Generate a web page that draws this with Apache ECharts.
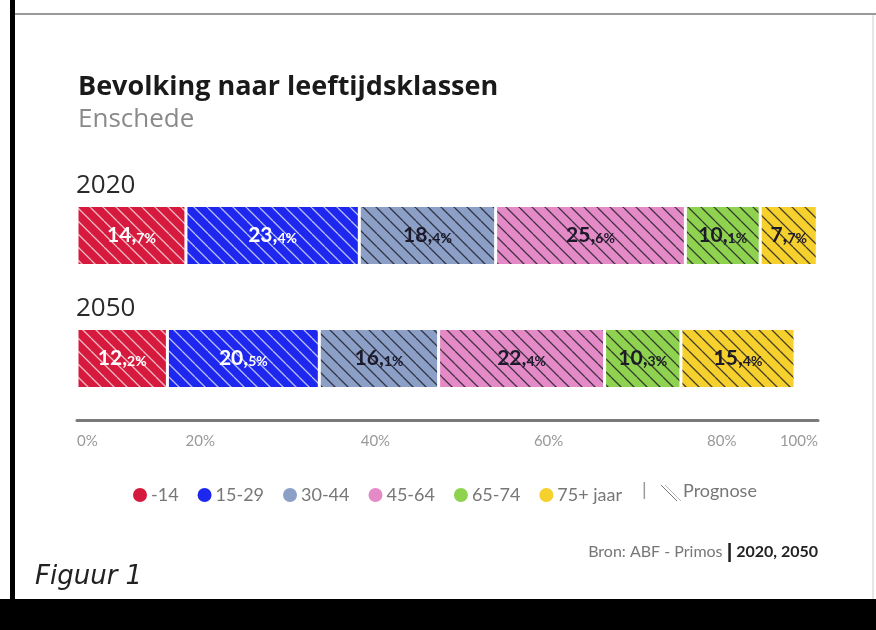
<!DOCTYPE html>
<html>
<head>
<meta charset="utf-8">
<script src="https://cdn.jsdelivr.net/npm/echarts@6/dist/echarts.min.js"></script>
<style>
  html, body { margin: 0; padding: 0; background: #fff; }
  #chart { width: 876px; height: 630px; }
</style>
</head>
<body>
<div id="chart"></div>
<script>
const years = ['2020', '2050']
const groups = ['-14', '15-29', '30-44', '45-64', '65-74', '75+ jaar']
const values2020 = [14.7, 23.4, 18.4, 25.6, 10.1, 7.7]
const values2050 = [12.2, 20.5, 16.1, 22.4, 10.3, 15.4]
const colors = ['#d61a3e', '#1d27ee', '#8c9fc6', '#e48ac6', '#8fd24f', '#f6d02c']
const lightText = [true, true, false, false, false, false]

// hatch pattern: diagonal "\" lines on top of the fill colour
function hatch(fill, line) {
  const s = 13
  const c = document.createElement('canvas')
  c.width = s
  c.height = s
  const ctx = c.getContext('2d')
  ctx.fillStyle = fill
  ctx.fillRect(0, 0, s, s)
  ctx.strokeStyle = line
  ctx.lineWidth = 1.3
  ctx.beginPath()
  for (const k of [-s, 0, s]) {
    ctx.moveTo(k, 0)
    ctx.lineTo(k + s, s)
  }
  ctx.stroke()
  return { image: c, repeat: 'repeat' }
}

function fmt(p) {
  const parts = p.value.toFixed(1).split('.')
  return '{a|' + parts[0] + ',}{b|' + parts[1] + '%}'
}

const series = groups.map((g, i) => {
  const txt = lightText[i] ? '#ffffff' : '#1c1a2a'
  return {
    name: g,
    type: 'bar',
    stack: 'total',
    barWidth: 60,
    data: [values2020[i], values2050[i]],
    itemStyle: {
      color: hatch(colors[i], lightText[i] ? 'rgba(255,255,255,0.7)' : 'rgba(25,25,35,0.8)'),
      borderColor: '#ffffff',
      borderWidth: 1.5
    },
    label: {
      show: true,
      position: 'inside',
      formatter: fmt,
      rich: {
        a: { fontSize: 21, fontWeight: 'bold', color: txt, fontFamily: 'Lato' },
        b: { fontSize: 14, fontWeight: 'bold', color: txt, fontFamily: 'Lato', padding: [5, 0, 0, 0] }
      }
    }
  }
})

// shift the middle tick labels a little, as in the original layout
const tickShift = { 20: -25, 40: 2, 60: 27, 80: 52 }

const option = {
  backgroundColor: '#ffffff',
  animation: false,
  textStyle: { fontFamily: 'Lato' },
  title: {
    text: 'Bevolking naar leeftijdsklassen',
    subtext: 'Enschede',
    left: 73,
    top: 69,
    itemGap: 6,
    textStyle: { fontSize: 27, fontWeight: 'bold', color: '#1a1a1a', fontFamily: 'Open Sans' },
    subtextStyle: { fontSize: 26, color: '#8a8a8a', fontFamily: 'Open Sans' }
  },
  grid: { left: 77, right: 58, top: 174, bottom: 210 },
  xAxis: {
    type: 'value',
    min: 0,
    max: 100,
    interval: 20,
    splitLine: { show: false },
    axisTick: { show: false },
    axisLine: { show: true, lineStyle: { color: '#7a7a7a', width: 3 } },
    axisLabel: {
      color: '#999',
      fontSize: 15,
      margin: 14,
      alignMinLabel: 'left',
      alignMaxLabel: 'right',
      formatter: function(v) {
        const d = tickShift[v] || 0
        if (d > 0) return '{r' + v + '|' + v + '%}'
        if (d < 0) return '{l' + v + '|' + v + '%}'
        return v + '%'
      },
      rich: {
        l20: { fontSize: 15, color: '#999', padding: [0, 50, 0, 0] },
        r40: { fontSize: 15, color: '#999', padding: [0, 0, 0, 4] },
        r60: { fontSize: 15, color: '#999', padding: [0, 0, 0, 54] },
        r80: { fontSize: 15, color: '#999', padding: [0, 0, 0, 104] }
      }
    }
  },
  yAxis: {
    type: 'category',
    data: years,
    inverse: true,
    axisLine: { show: false },
    axisTick: { show: false },
    axisLabel: { show: false }
  },
  legend: {
    left: 126,
    top: 481,
    icon: 'circle',
    itemWidth: 16,
    itemHeight: 16,
    itemGap: 17,
    textStyle: { color: '#777', fontSize: 18, padding: [0, 0, 0, -2] },
    data: groups.map((g, i) => ({ name: g, itemStyle: { color: colors[i] } }))
  },
  graphic: [
    { type: 'rect', left: 10, top: 0, shape: { width: 5, height: 600 }, style: { fill: '#000' } },
    { type: 'rect', left: 15, top: 13, shape: { width: 861, height: 2 }, style: { fill: '#9a9a9a' } },
    { type: 'rect', left: 872, top: 15, shape: { width: 2, height: 584 }, style: { fill: '#e6e6e6' } },
    { type: 'rect', left: 0, top: 599, shape: { width: 876, height: 31 }, style: { fill: '#000' } },
    { type: 'text', left: 642, top: 481, style: { text: '|', fontSize: 18, fill: '#999' } },
    { type: 'line', shape: { x1: 661, y1: 485, x2: 677, y2: 501 }, style: { stroke: '#777', lineWidth: 1 } },
    { type: 'line', shape: { x1: 665, y1: 485, x2: 681, y2: 501 }, style: { stroke: '#bbb', lineWidth: 1 } },
    { type: 'text', left: 683, top: 482, style: { text: 'Prognose', fontSize: 18, fill: '#777', fontFamily: 'Lato' } },
    {
      type: 'text', right: 58, top: 542,
      style: {
        text: '{n|Bron: ABF - Primos }{s||}{b| 2020, 2050}',
        rich: {
          n: { fontSize: 16, fill: '#777', fontFamily: 'Lato' },
          s: { fontSize: 20, fill: '#222', fontWeight: 'bold' },
          b: { fontSize: 16, fill: '#222', fontWeight: 'bold', fontFamily: 'Lato' }
        }
      }
    },
    { type: 'text', left: 35, top: 564, style: { text: 'Figuur 1', fontSize: 26, fontStyle: 'italic', fill: '#222', fontFamily: 'DejaVu Sans' } }
  ],
  series: series
}

const myChart = echarts.init(document.getElementById('chart'))
myChart.setOption(option)

// year labels sit above each bar, placed through the category axis
const yearLabels = years.map(y => {
  const cy = myChart.convertToPixel({ yAxisIndex: 0 }, y)
  return {
    type: 'text',
    left: 76,
    top: cy - 63,
    style: { text: y, fontSize: 26, fill: '#2a2a2a', fontFamily: 'Open Sans' }
  }
})
myChart.setOption({ graphic: option.graphic.concat(yearLabels) })
</script>
</body>
</html>
